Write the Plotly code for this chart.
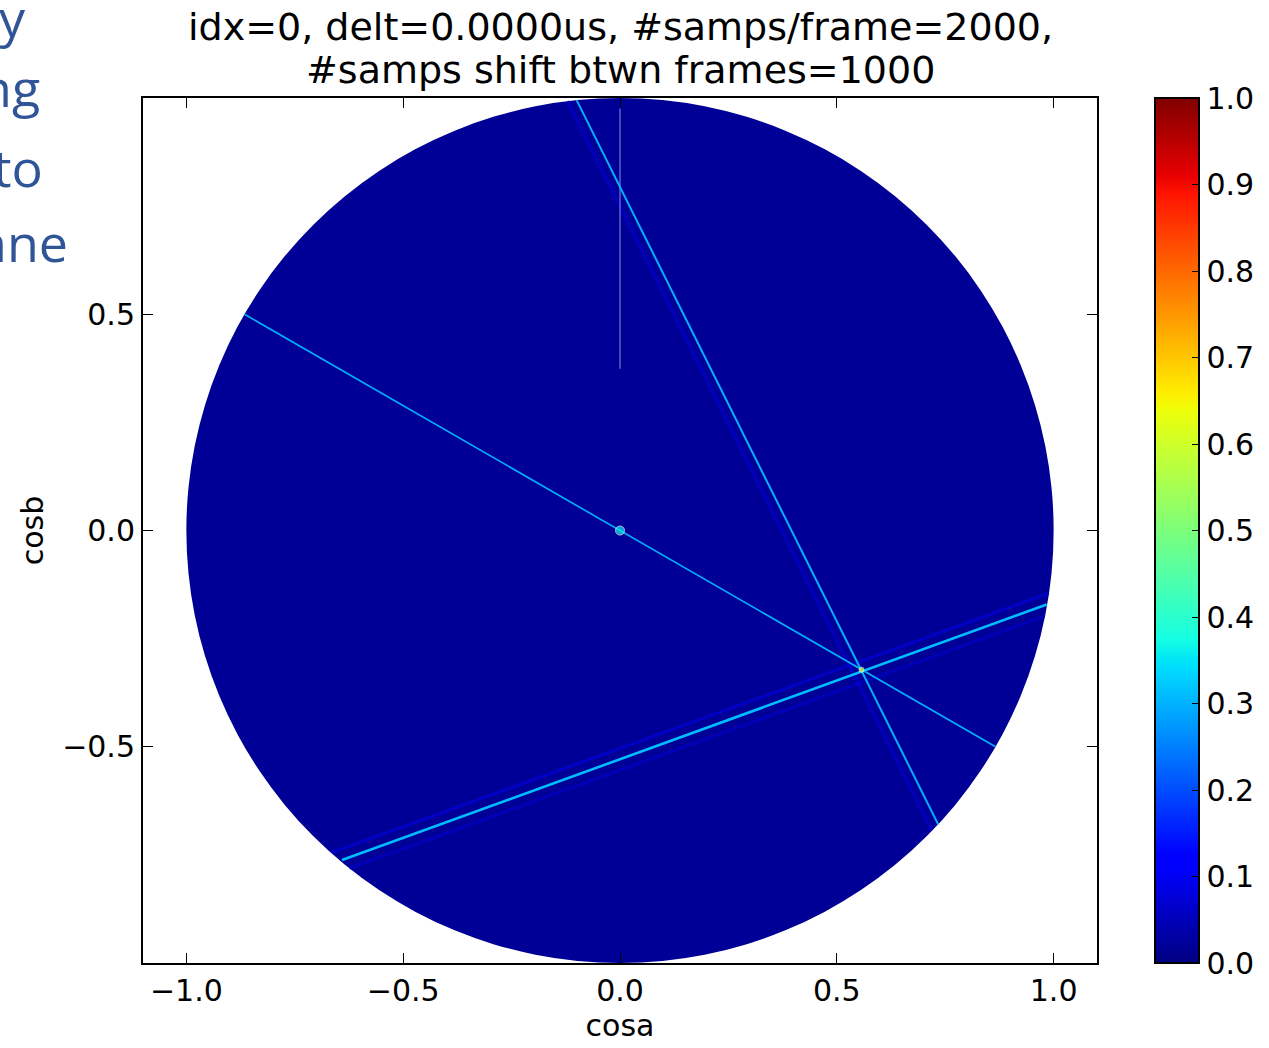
import numpy as np
import plotly.graph_objects as go

# ---- data (cosa/cosb coordinates and normalized intensities) ----
title_lines = ["idx=0, delt=0.0000us, #samps/frame=2000,", "#samps shift btwn frames=1000"]
x_ticks = [-1.0, -0.5, 0.0, 0.5, 1.0]
y_ticks = [-0.5, 0.0, 0.5]
cbar_ticks = [0.0, 0.1, 0.2, 0.3, 0.4, 0.5, 0.6, 0.7, 0.8, 0.9, 1.0]

background_level = 0.02

# main ridges
ridge_x0 = [-0.866, -0.100, -0.641]
ridge_y0 = [0.500, 0.995, -0.762]
ridge_x1 = [0.866, 0.734, 0.984]
ridge_y1 = [-0.500, -0.680, -0.171]
ridge_level = [0.30, 0.30, 0.31]

# faint sidelobes
side_x0 = [-0.665, -0.624, -0.121]
side_y0 = [-0.745, -0.781, 0.993]
side_x1 = [0.989, 0.979, 0.719]
side_y1 = [-0.145, -0.198, -0.694]
side_level = [0.09, 0.07, 0.08]

# faint vertical trace
vert_x = [0.0, 0.0]
vert_y = [0.976, 0.374]

# peaks
peak_x = [0.0, 0.557]
peak_y = [0.0, -0.322]
peak_level = [0.36, 0.65]

side_text = ["y", "ng", "to", "nne"]

# ---- matplotlib jet colormap ----
R = ([0, 0.35, 0.66, 0.89, 1], [0, 0, 1, 1, 0.5])
G = ([0, 0.125, 0.375, 0.64, 0.91, 1], [0, 0, 1, 1, 0, 0])
B = ([0, 0.11, 0.34, 0.65, 1], [0.5, 1, 1, 0, 0])


def jet(v):
    r = np.interp(v, *R)
    g = np.interp(v, *G)
    b = np.interp(v, *B)
    return "rgb(%d,%d,%d)" % (round(r * 255), round(g * 255), round(b * 255))


stops = sorted(set(R[0] + G[0] + B[0]))
jet_scale = [[s, jet(s)] for s in stops]

FONT = "DejaVu Sans"
TICK = 30
fig = go.Figure()

# disc
fig.add_shape(type="circle", xref="x", yref="y", x0=-1, y0=-1, x1=1, y1=1,
              fillcolor=jet(background_level), line=dict(width=0), layer="below")

# sidelobes
for i in range(len(side_x0)):
    fig.add_trace(go.Scatter(x=[side_x0[i], side_x1[i]], y=[side_y0[i], side_y1[i]],
                             mode="lines", line=dict(color=jet(side_level[i]), width=3),
                             opacity=0.6, hoverinfo="skip", showlegend=False))

# vertical faint trace
fig.add_trace(go.Scatter(x=vert_x, y=vert_y, mode="lines",
                         line=dict(color="rgba(150,150,215,0.8)", width=1.2),
                         hoverinfo="skip", showlegend=False))

# ridges
ridge_w = [1.6, 2.0, 2.6]
for i in range(len(ridge_x0)):
    fig.add_trace(go.Scatter(x=[ridge_x0[i], ridge_x1[i]], y=[ridge_y0[i], ridge_y1[i]],
                             mode="lines", line=dict(color=jet(ridge_level[i]), width=ridge_w[i]),
                             hoverinfo="skip", showlegend=False))

# peaks + colorbar carrier
fig.add_trace(go.Scatter(
    x=peak_x, y=peak_y, mode="markers",
    marker=dict(size=[9, 5], color=peak_level, colorscale=jet_scale, cmin=0, cmax=1,
                showscale=True,
                colorbar=dict(
                    x=(1155 - 143) / 954, xanchor="left", xpad=0, ypad=0,
                    y=0.5, yanchor="middle", len=865, lenmode="pixels",
                    thickness=44, thicknessmode="pixels",
                    outlinewidth=2, outlinecolor="black",
                    tickvals=cbar_ticks, tickformat=".1f",
                    ticks="inside", ticklen=8, tickwidth=1, tickcolor="black",
                    tickfont=dict(family=FONT, size=TICK, color="black"))),
    hoverinfo="skip", showlegend=False))

# title (two lines, matplotlib-like spacing)
for t, py in zip(title_lines, [27, 70]):
    fig.add_annotation(text=t, xref="paper", yref="paper", x=0.5, y=(963 - py) / 865,
                       xanchor="center", yanchor="middle", showarrow=False,
                       font=dict(family=FONT, size=38, color="black"))

# slide text cut off at left
side_px = [(28, 54), (42, 124), (45, 204), (70, 279)]
for t, (px, py) in zip(side_text, side_px):
    fig.add_annotation(text=t, xref="paper", yref="paper",
                       x=(px - 143) / 954, y=(963 - py) / 865,
                       xanchor="right", yanchor="bottom", showarrow=False,
                       font=dict(family="Open Sans", size=52, color="#2f5597"))

fig.update_layout(
    width=1269, height=1048,
    margin=dict(l=143, r=172, t=98, b=85, autoexpand=False),
    paper_bgcolor="white", plot_bgcolor="white",
    font=dict(family=FONT, color="black"),
    xaxis=dict(range=[-1.1, 1.1], tickvals=x_ticks, tickformat=".1f",
               showgrid=False, zeroline=False, showline=True, linecolor="black",
               linewidth=2, mirror="ticks", ticks="inside", ticklen=10,
               tickcolor="black", tickfont=dict(size=TICK),
               title=dict(text="cosa", font=dict(size=TICK), standoff=8)),
    yaxis=dict(range=[-1, 1], tickvals=y_ticks, tickformat=".1f",
               showgrid=False, zeroline=False, showline=True, linecolor="black",
               linewidth=2, mirror="ticks", ticks="inside", ticklen=10,
               tickcolor="black", tickfont=dict(size=TICK),
               title=dict(text="cosb", font=dict(size=TICK), standoff=10)),
)

fig.write_html("out.html")
